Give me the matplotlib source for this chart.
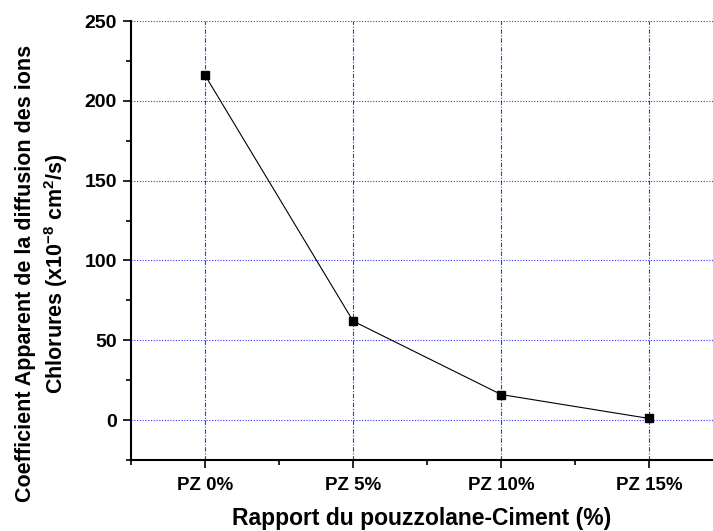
import numpy as np
import matplotlib.pyplot as plt
from matplotlib.ticker import MultipleLocator

plt.rcParams['font.family'] = ['Liberation Sans', 'DejaVu Sans']
plt.rcParams['font.weight'] = 'bold'
plt.rcParams['mathtext.fontset'] = 'custom'
plt.rcParams['mathtext.rm'] = 'Liberation Sans:bold'
plt.rcParams['mathtext.bf'] = 'Liberation Sans:bold'
plt.rcParams['mathtext.default'] = 'bf'

categories = ['PZ 0%', 'PZ 5%', 'PZ 10%', 'PZ 15%']
coeff = [216, 62, 16, 1]

fig = plt.figure(figsize=(7.13, 5.31), dpi=100)
ax = fig.add_axes([131 / 713, 1 - 460 / 531, 1 - 131 / 713, (460 - 21) / 531])

x = np.arange(len(categories))
ax.plot(x, coeff, color='black', lw=0.8, marker='s', ms=5.5,
        markerfacecolor='black', markeredgecolor='black', zorder=3)

ax.set_xlim(-0.5, 3.43)
ax.set_ylim(-25, 250)
ax.set_xticks(x)
ax.set_xticklabels(categories)
ax.xaxis.set_minor_locator(MultipleLocator(0.5))
ax.set_yticks([0, 50, 100, 150, 200, 250])
ax.yaxis.set_minor_locator(MultipleLocator(25))

ax.grid(axis='y', which='major', color='blue', ls=(0, (1, 1.5)), lw=0.8, alpha=0.8)
ax.grid(axis='x', which='major', color='blue', ls=(0, (4, 1.5, 1, 1.5)), lw=0.8, alpha=0.8)

for s in ['top', 'right']:
    ax.spines[s].set_visible(False)
for s in ['left', 'bottom']:
    ax.spines[s].set_linewidth(1.5)

ax.tick_params(which='major', direction='out', length=6, width=1.2)
ax.tick_params(which='minor', direction='out', length=3.5, width=1.2)
ax.tick_params(axis='y', which='major', labelsize=14, pad=4)
ax.tick_params(axis='x', which='major', labelsize=13.5, pad=6.5)

ax.set_xlabel('Rapport du pouzzolane-Ciment (%)', fontsize=16.5, fontweight='bold', labelpad=9)
ax.set_ylabel('Coefficient Apparent de la diffusion des ions\n'
              'Chlorures (x10$^{-8}$ cm$^{2}$/s)',
              fontsize=15.5, fontweight='bold', labelpad=10.5, linespacing=1.3, y=0.424)

fig.savefig('out.png', dpi=100)
